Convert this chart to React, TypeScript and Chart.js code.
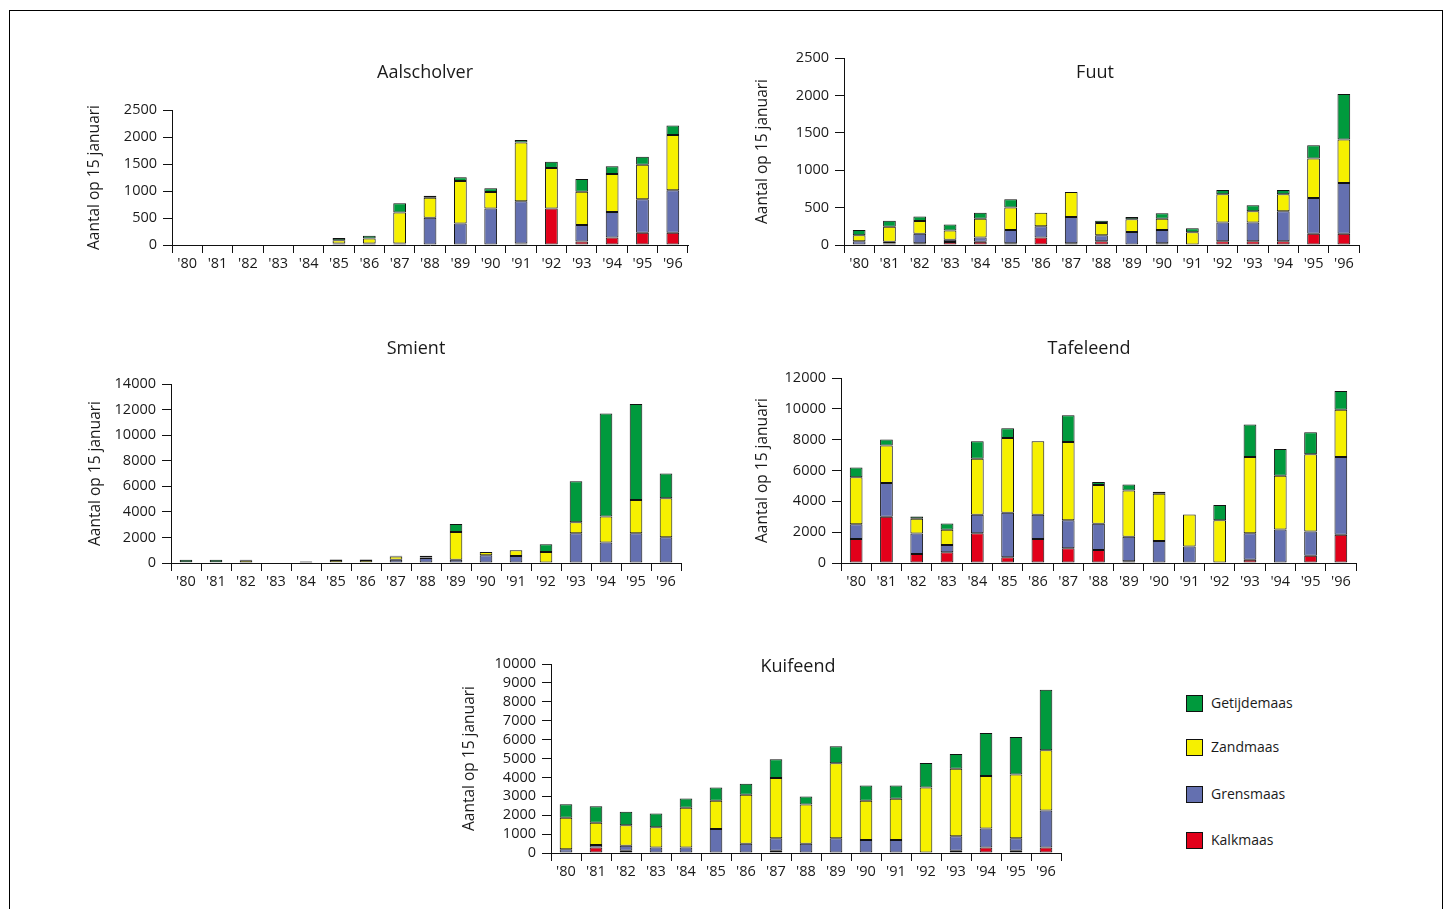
import React, { useEffect, useRef } from 'react';
import { Chart, registerables } from 'chart.js';

Chart.register(...registerables);

const FONT = "'Open Sans', 'Noto Sans', sans-serif";

const years = ["'80", "'81", "'82", "'83", "'84", "'85", "'86", "'87", "'88", "'89", "'90", "'91", "'92", "'93", "'94", "'95", "'96"];
const seriesNames = ['Kalkmaas', 'Grensmaas', 'Zandmaas', 'Getijdemaas'];
const seriesColors = ['#e2001a', '#6470b0', '#f6f000', '#009a3d'];
const yAxisTitle = 'Aantal op 15 januari';

// Aalscholver
const aalscholverKalk = [0, 0, 0, 0, 0, 20, 30, 30, 0, 0, 0, 30, 675, 65, 140, 225, 225];
const aalscholverGrens = [0, 0, 0, 0, 0, 10, 0, 0, 505, 400, 675, 780, 0, 305, 470, 620, 790];
const aalscholverZand = [0, 0, 0, 0, 0, 60, 90, 570, 370, 785, 305, 1090, 750, 615, 705, 640, 1020];
const aalscholverGetij = [0, 0, 0, 0, 0, 40, 50, 175, 35, 70, 70, 45, 115, 235, 145, 150, 180];

// Fuut
const fuutKalk = [0, 20, 25, 40, 45, 25, 100, 25, 50, 0, 25, 0, 50, 50, 50, 150, 150];
const fuutGrens = [50, 25, 125, 30, 55, 175, 150, 350, 80, 175, 175, 0, 250, 250, 400, 480, 680];
const fuutZand = [80, 200, 170, 125, 250, 300, 180, 335, 165, 170, 150, 170, 380, 150, 230, 525, 580];
const fuutGetij = [70, 80, 60, 80, 80, 110, 0, 0, 30, 30, 75, 55, 55, 80, 55, 180, 610];

// Smient
const smientKalk = [0, 0, 0, 0, 0, 0, 0, 0, 0, 0, 0, 0, 0, 0, 0, 0, 0];
const smientGrens = [50, 50, 30, 0, 30, 50, 50, 250, 400, 260, 600, 550, 0, 2325, 1600, 2325, 2010];
const smientZand = [0, 0, 180, 0, 80, 180, 180, 250, 30, 2170, 260, 440, 860, 860, 2030, 2610, 3060];
const smientGetij = [200, 200, 50, 0, 20, 50, 50, 75, 145, 625, 0, 0, 600, 3215, 8070, 7500, 1930];

// Tafeleend
const tafeleendKalk = [1560, 3000, 590, 695, 1930, 370, 1560, 955, 845, 110, 0, 0, 0, 215, 0, 475, 1825];
const tafeleendGrens = [960, 2190, 1320, 480, 1195, 2885, 1565, 1825, 1695, 1585, 1430, 1065, 0, 1715, 2170, 1565, 5055];
const tafeleendZand = [3040, 2430, 955, 975, 3645, 4860, 4775, 5075, 2515, 3015, 3060, 2085, 2780, 4950, 3495, 5015, 3060];
const tafeleendGetij = [630, 390, 150, 410, 1130, 630, 0, 1735, 195, 390, 130, 0, 975, 2105, 1735, 1430, 1215];

// Kuifeend
const kuifeendKalk = [0, 285, 120, 0, 0, 0, 0, 120, 0, 0, 0, 0, 0, 120, 285, 120, 285];
const kuifeendGrens = [195, 140, 270, 285, 285, 1275, 495, 660, 495, 780, 690, 690, 0, 765, 1005, 660, 1965];
const kuifeendZand = [1665, 1170, 1080, 1080, 2105, 1485, 2585, 3185, 2070, 3965, 2070, 2180, 3470, 3575, 2780, 3380, 3185];
const kuifeendGetij = [725, 885, 710, 725, 495, 710, 585, 990, 425, 900, 815, 705, 1290, 780, 2285, 1980, 3205];

type PanelCfg = {
  title: string;
  series: number[][];
  max: number;
  step: number;
  plotLeft: number;
  plotRight: number;
  plotTop: number;
  plotBottom: number;
  titleX: number;
  titleY: number;
  yTitleX: number;
};

const panels: PanelCfg[] = [
  {
    title: 'Aalscholver',
    series: [aalscholverKalk, aalscholverGrens, aalscholverZand, aalscholverGetij],
    max: 2500, step: 500,
    plotLeft: 172, plotRight: 688, plotTop: 110, plotBottom: 245,
    titleX: 425, titleY: 73, yTitleX: 95,
  },
  {
    title: 'Fuut',
    series: [fuutKalk, fuutGrens, fuutZand, fuutGetij],
    max: 2500, step: 500,
    plotLeft: 844, plotRight: 1359, plotTop: 58, plotBottom: 245,
    titleX: 1095, titleY: 73, yTitleX: 763,
  },
  {
    title: 'Smient',
    series: [smientKalk, smientGrens, smientZand, smientGetij],
    max: 14000, step: 2000,
    plotLeft: 171, plotRight: 681, plotTop: 384, plotBottom: 563,
    titleX: 416, titleY: 349, yTitleX: 96,
  },
  {
    title: 'Tafeleend',
    series: [tafeleendKalk, tafeleendGrens, tafeleendZand, tafeleendGetij],
    max: 12000, step: 2000,
    plotLeft: 841, plotRight: 1356, plotTop: 378, plotBottom: 563,
    titleX: 1089, titleY: 349, yTitleX: 763,
  },
  {
    title: 'Kuifeend',
    series: [kuifeendKalk, kuifeendGrens, kuifeendZand, kuifeendGetij],
    max: 10000, step: 1000,
    plotLeft: 551, plotRight: 1061, plotTop: 664, plotBottom: 853,
    titleX: 798, titleY: 667, yTitleX: 470,
  },
];

const panelTitlePlugin = {
  id: 'panelTitle',
  afterDraw(chart: any, _args: any, opts: any) {
    if (!opts || !opts.text) return;
    const ctx = chart.ctx;
    ctx.save();
    ctx.font = `18px ${FONT}`;
    ctx.fillStyle = '#1a1a1a';
    ctx.textAlign = 'center';
    ctx.textBaseline = 'middle';
    ctx.fillText(opts.text, opts.x, opts.y);
    ctx.restore();
  },
};

function Panel({ cfg }: { cfg: PanelCfg }) {
  const ref = useRef<HTMLCanvasElement | null>(null);
  const canvasLeft = cfg.yTitleX - 10;
  const canvasTop = Math.min(cfg.titleY - 20, cfg.plotTop - 20);
  const canvasRight = cfg.plotRight + 14;
  const canvasBottom = cfg.plotBottom + 40;
  const width = canvasRight - canvasLeft;
  const height = canvasBottom - canvasTop;

  useEffect(() => {
    if (!ref.current) return;
    const chart = new Chart(ref.current, {
      type: 'bar',
      data: {
        labels: years,
        datasets: cfg.series.map((vals, i) => ({
          label: seriesNames[i],
          // empty segments are left out so that no zero-height outline is drawn
          data: vals.map((v) => (v === 0 ? null : v)),
          backgroundColor: seriesColors[i],
          borderColor: '#111111',
          borderWidth: 1,
          borderSkipped: false,
          categoryPercentage: 1,
          barPercentage: 0.42,
        })),
      },
      options: {
        responsive: false,
        maintainAspectRatio: false,
        animation: false,
        devicePixelRatio: 1,
        layout: {
          padding: {
            top: cfg.plotTop - canvasTop,
            right: canvasRight - cfg.plotRight,
            bottom: 0,
            left: 0,
          },
        },
        plugins: {
          legend: { display: false },
          tooltip: { enabled: false },
          title: { display: false },
          panelTitle: {
            text: cfg.title,
            x: cfg.titleX - canvasLeft,
            y: cfg.titleY - canvasTop,
          },
        } as any,
        scales: {
          x: {
            stacked: true,
            afterFit: (scale: any) => { scale.height = canvasBottom - cfg.plotBottom; },
            grid: {
              offset: true,
              drawOnChartArea: false,
              drawTicks: true,
              tickLength: 8,
              color: '#111111',
            },
            border: { color: '#111111', width: 1 },
            ticks: {
              color: '#1a1a1a',
              padding: 2,
              maxRotation: 0,
              autoSkip: false,
              font: { family: FONT, size: 14.5 },
            },
          },
          y: {
            stacked: true,
            min: 0,
            max: cfg.max,
            afterFit: (scale: any) => { scale.width = cfg.plotLeft - canvasLeft; },
            grid: {
              drawOnChartArea: false,
              drawTicks: true,
              tickLength: 9,
              color: '#111111',
            },
            border: { color: '#111111', width: 1 },
            ticks: {
              stepSize: cfg.step,
              autoSkip: false,
              color: '#1a1a1a',
              padding: 6,
              font: { family: FONT, size: 14.5 },
              callback: (value: any) => String(value),
            },
            title: {
              display: true,
              text: yAxisTitle,
              color: '#1a1a1a',
              padding: 0,
              font: { family: FONT, size: 15.5 },
            },
          },
        },
      },
      plugins: [panelTitlePlugin],
    });
    return () => chart.destroy();
  }, []);

  return (
    <canvas
      ref={ref}
      width={width}
      height={height}
      style={{ position: 'absolute', left: canvasLeft, top: canvasTop, width, height }}
    />
  );
}

const legendItems = [
  { name: 'Getijdemaas', color: '#009a3d', y: 703 },
  { name: 'Zandmaas', color: '#f6f000', y: 747 },
  { name: 'Grensmaas', color: '#6470b0', y: 794 },
  { name: 'Kalkmaas', color: '#e2001a', y: 840 },
];

export default function App() {
  return (
    <div
      style={{
        position: 'absolute',
        left: 0,
        top: 0,
        width: 1447,
        height: 909,
        overflow: 'hidden',
        background: '#ffffff',
        fontFamily: FONT,
      }}
    >
      <div
        style={{
          position: 'absolute',
          left: 9,
          top: 10,
          width: 1432,
          height: 950,
          border: '1px solid #000',
        }}
      />
      {panels.map((p) => (
        <Panel key={p.title} cfg={p} />
      ))}
      {legendItems.map((it) => (
        <div key={it.name}>
          <div
            style={{
              position: 'absolute',
              left: 1186,
              top: it.y - 8,
              width: 15,
              height: 15,
              background: it.color,
              border: '1px solid #111',
            }}
          />
          <div
            style={{
              position: 'absolute',
              left: 1211,
              top: it.y - 11,
              fontSize: 14,
              lineHeight: '22px',
              color: '#1a1a1a',
              whiteSpace: 'nowrap',
            }}
          >
            {it.name}
          </div>
        </div>
      ))}
    </div>
  );
}
